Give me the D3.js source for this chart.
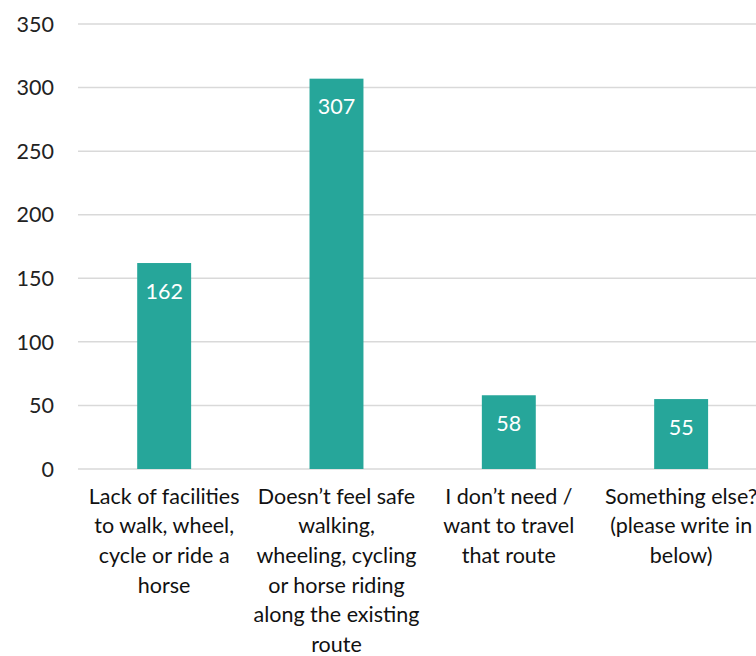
<!DOCTYPE html>
<html><head><meta charset="utf-8">
<script src="https://cdn.jsdelivr.net/npm/d3@7"></script>
<style>body{margin:0;background:#fff}svg{display:block}text{font-family:Lato,"Open Sans",sans-serif}</style>
</head><body><svg id="c" width="756" height="656"></svg>
<script>
const categories = [
  ["Lack of facilities","to walk, wheel,","cycle or ride a","horse"],
  ["Doesn\u2019t feel safe","walking,","wheeling, cycling","or horse riding","along the existing","route"],
  ["I don\u2019t need /","want to travel","that route"],
  ["Something else?","(please write in","below)"]
];
const values = [162, 307, 58, 55];
const yTicks = [0, 50, 100, 150, 200, 250, 300, 350];

const svg = d3.select("#c");
const fs = 21.5;
const x = d3.scaleBand().domain(d3.range(values.length)).range([78, 767.3]).paddingInner(0.687).paddingOuter(0.3435);
const y = d3.scaleLinear().domain([0, 350]).range([469, 24]);

svg.append("g").selectAll("line").data(yTicks).join("line")
  .attr("x1", 78).attr("x2", 756)
  .attr("y1", d => y(d)).attr("y2", d => y(d))
  .attr("stroke", "#d9d9d9").attr("stroke-width", 1.5);

svg.append("g").selectAll("text").data(yTicks).join("text")
  .attr("x", 54).attr("y", d => y(d)).attr("dy", "0.36em")
  .attr("text-anchor", "end").attr("font-size", fs).attr("fill", "#222")
  .text(d => d);

svg.append("g").selectAll("rect").data(values).join("rect")
  .attr("x", (d, i) => x(i)).attr("width", x.bandwidth())
  .attr("y", d => y(d)).attr("height", d => y(0) - y(d))
  .attr("fill", "#26a69a");

svg.append("g").selectAll("text").data(values).join("text")
  .attr("x", (d, i) => x(i) + x.bandwidth() / 2).attr("y", d => y(d) + 28)
  .attr("dy", "0.36em")
  .attr("text-anchor", "middle").attr("font-size", fs).attr("fill", "#fff")
  .text(d => d);

const lab = svg.append("g");
categories.forEach((lines, i) => {
  const t = lab.append("text").attr("text-anchor", "middle").attr("font-size", fs).attr("fill", "#111");
  lines.forEach((s, j) => {
    t.append("tspan").attr("x", x(i) + x.bandwidth() / 2).attr("y", 496 + j * 29.6).attr("dy", "0.36em").text(s);
  });
});
</script></body></html>
